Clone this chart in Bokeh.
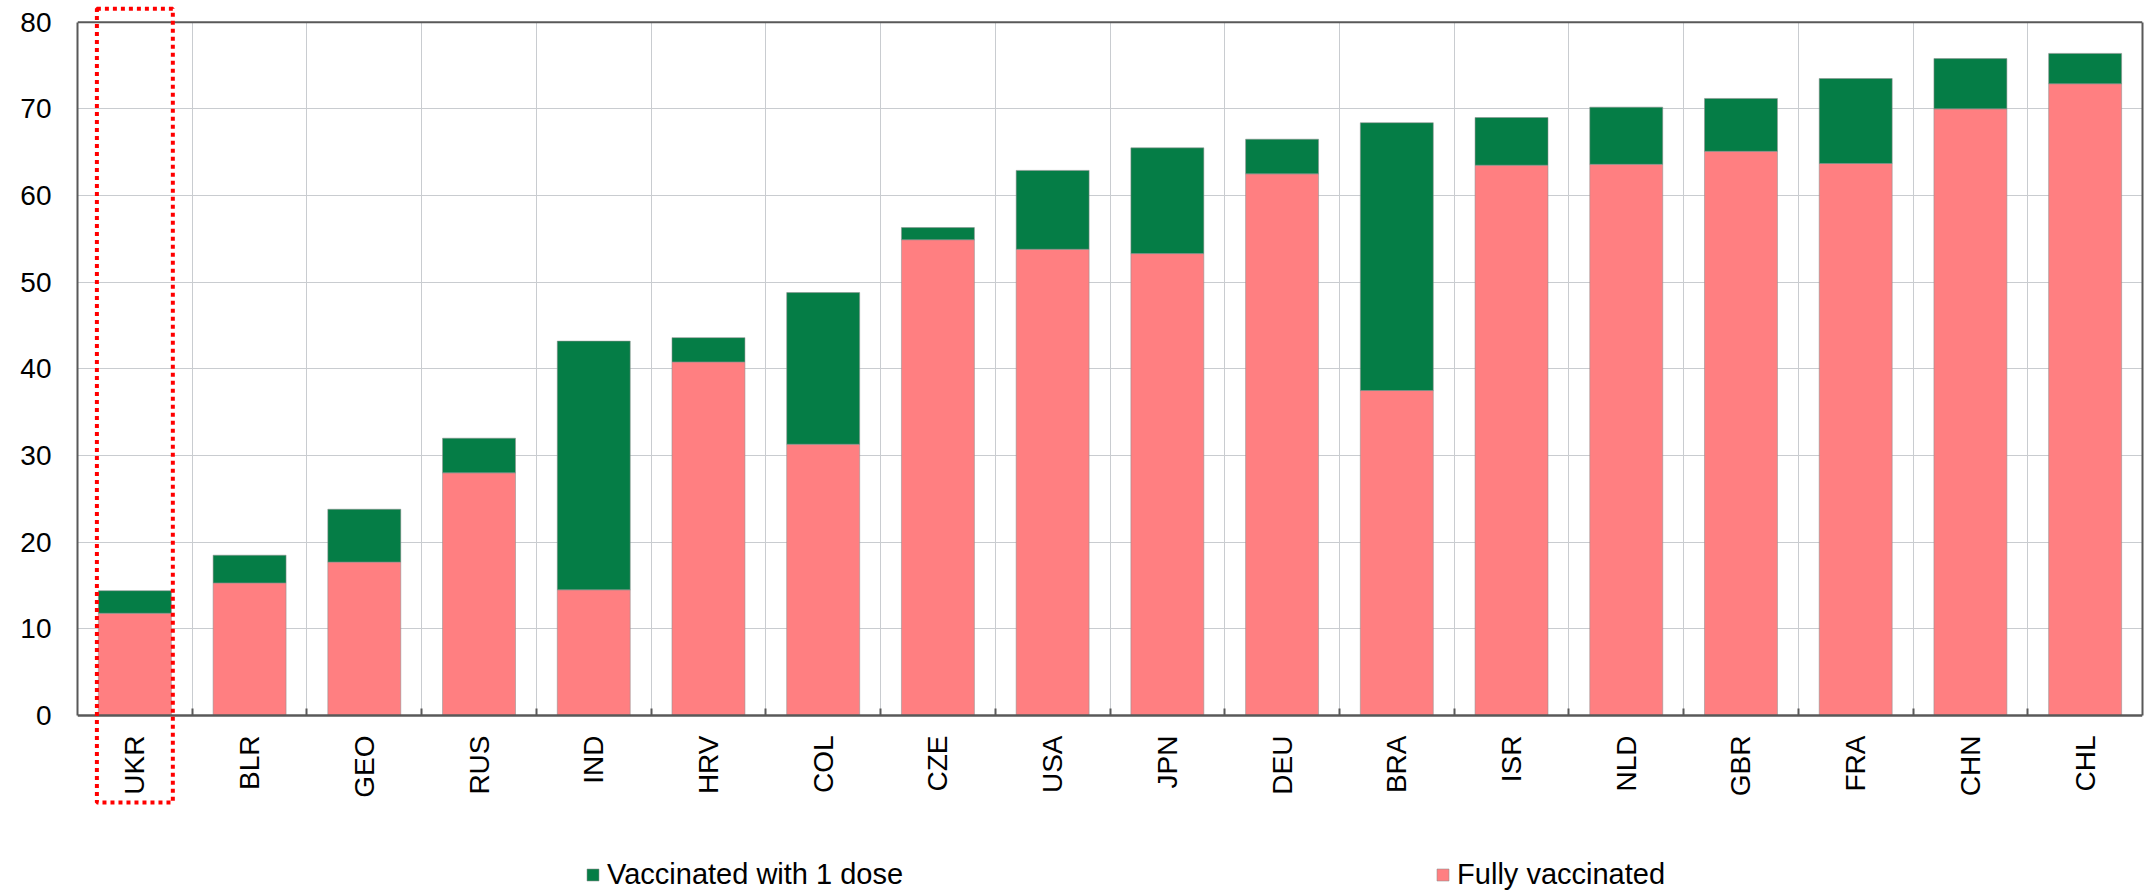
import numpy as np
from bokeh.plotting import figure
from bokeh.models import (ColumnDataSource, Range1d, FixedTicker, Legend, LegendItem,
                          BoxAnnotation, Span, LinearAxis)
from bokeh.embed import file_html
from bokeh.resources import INLINE

countries = ["UKR", "BLR", "GEO", "RUS", "IND", "HRV", "COL", "CZE", "USA",
             "JPN", "DEU", "BRA", "ISR", "NLD", "GBR", "FRA", "CHN", "CHL"]
fully_vaccinated = [11.8, 15.3, 17.7, 28.0, 14.5, 40.8, 31.3, 54.9, 53.8,
                    53.3, 62.5, 37.5, 63.5, 63.6, 65.1, 63.7, 70.0, 72.9]
one_dose = [2.6, 3.2, 6.1, 4.0, 28.7, 2.8, 17.5, 1.4, 9.1,
            12.2, 4.0, 30.9, 5.5, 6.6, 6.1, 9.8, 5.8, 3.5]
y_ticks = [0, 10, 20, 30, 40, 50, 60, 70, 80]
highlight = "UKR"

GREEN = "#057D46"
PINK = "#FF7F81"
FONT = "Liberation Sans"
AXIS = "#595959"
GRID = "#c9ccd0"

# layout geometry (pixels)
W, H = 2155, 893
TOP_PX, ZERO_PX = 21.7, 715.0          # where y=80 and y=0 sit
Y_MAX = 80
ppu = (ZERO_PX - TOP_PX) / Y_MAX       # pixels per unit
y_start = -(H - ZERO_PX) / ppu
y_end = Y_MAX + TOP_PX / ppu

n = len(countries)
pos = np.arange(n) + 0.5
src = ColumnDataSource(dict(x=pos, full=fully_vaccinated, one=one_dose))

p = figure(width=W, height=H, output_backend="svg", toolbar_location=None,
           x_range=Range1d(0, n), y_range=Range1d(y_start, y_end),
           min_border_left=77, min_border_right=13, min_border_top=0,
           min_border_bottom=0)

rs = p.vbar_stack(["full", "one"], x="x", width=0.636, source=src,
                  color=[PINK, GREEN], line_color="#8f8f8f", line_alpha=0.55,
                  line_width=1)

# x axis fixed at y = 0
xa = p.xaxis[0]
xa.fixed_location = 0
xa.ticker = FixedTicker(ticks=list(pos), minor_ticks=list(np.arange(1, n)))
xa.major_label_overrides = {float(v): c for v, c in zip(pos, countries)}
xa.major_label_orientation = np.pi / 2
xa.major_tick_line_color = None
xa.major_tick_in = 0
xa.major_tick_out = 0
xa.minor_tick_in = 7
xa.minor_tick_out = 0
xa.minor_tick_line_color = AXIS
xa.minor_tick_line_width = 2
xa.axis_line_color = AXIS
xa.axis_line_width = 2.5
xa.major_label_standoff = 20
xa.major_label_text_font = FONT
xa.major_label_text_font_size = "28px"
xa.major_label_text_color = "black"

ya = p.yaxis[0]
ya.bounds = (0, Y_MAX)
ya.ticker = FixedTicker(ticks=y_ticks)
ya.major_tick_line_color = None
ya.minor_tick_line_color = None
ya.major_tick_in = 0
ya.major_tick_out = 0
ya.axis_line_color = AXIS
ya.axis_line_width = 2
ya.major_label_standoff = 26
ya.major_label_text_font = FONT
ya.major_label_text_font_size = "28px"
ya.major_label_text_color = "black"

# right border of the plot area
ra = LinearAxis(bounds=(0, Y_MAX), ticker=FixedTicker(ticks=[]),
                major_tick_line_color=None, minor_tick_line_color=None,
                major_label_text_font_size="0px", axis_line_color=AXIS,
                axis_line_width=2)
p.add_layout(ra, "right")
# top border of the plot area
p.add_layout(Span(location=Y_MAX, dimension="width", line_color=AXIS,
                  line_width=2))

p.xgrid.ticker = FixedTicker(ticks=list(np.arange(1, n)))
p.xgrid.cross_bounds = (0, Y_MAX)
p.xgrid.grid_line_color = GRID
p.xgrid.grid_line_width = 1
p.ygrid.grid_line_color = GRID
p.ygrid.grid_line_width = 1

p.outline_line_color = None
p.background_fill_color = "white"
p.border_fill_color = "white"

# highlight box around the selected country
i = countries.index(highlight)
box = BoxAnnotation(left=i + 0.5 - 0.331, right=i + 0.5 + 0.331,
                    top=Y_MAX + (TOP_PX - 8.3) / ppu,
                    bottom=-(802 - ZERO_PX) / ppu,
                    fill_alpha=0, line_color="#ff0000", line_alpha=1.0,
                    line_width=4, line_dash="4 4")
p.add_layout(box)

legend = Legend(items=[LegendItem(label="Vaccinated with 1 dose", renderers=[rs[1]]),
                       LegendItem(label="Fully vaccinated", renderers=[rs[0]])],
                orientation="horizontal", location=(508, 2),
                glyph_width=15, glyph_height=15, label_standoff=7, spacing=532,
                padding=0, margin=0, border_line_color=None,
                background_fill_alpha=0, label_text_font=FONT,
                label_text_font_size="29px", label_text_color="black")
p.add_layout(legend, "center")

open("out.html", "w").write(file_html(p, INLINE))
